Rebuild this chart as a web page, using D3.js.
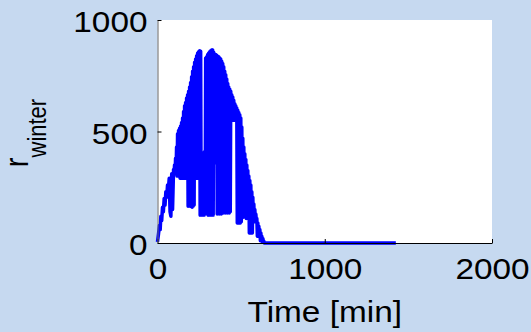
<!DOCTYPE html>
<html>
<head>
<meta charset="utf-8">
<script src="https://cdn.jsdelivr.net/npm/d3@7"></script>
<style>
  body { margin: 0; background: #c6d9f0; }
  svg { display: block; }
  .axis text { font-family: "Liberation Sans", Arial, sans-serif; font-size: 29px; fill: #000; }
</style>
</head>
<body>
<div id="chart"></div>
<script>
// time [min] and r_winter
const timeMin = [
  0, 6, 12, 16, 20, 25, 30, 35, 40, 45, 50, 55, 60, 65, 70, 75, 80, 85, 90,
  96, 99, 102, 105, 108, 111, 114, 117,
  120, 123, 126, 129, 132, 135, 138, 141,
  144, 147, 150, 153, 156, 159, 162, 165,
  168, 171, 174, 177, 180, 183, 186, 189,
  192, 195, 198, 201, 204, 207, 210, 213,
  216, 219, 222, 225, 228, 231, 234, 237,
  240, 243, 246, 249, 252, 255, 258, 261,
  264, 267, 270, 273, 276, 279, 282, 285,
  288, 291, 294, 297, 300, 303, 306, 309,
  312, 315, 318, 321, 324, 327, 330, 333,
  336, 339, 342, 345, 348, 351, 354, 357,
  360, 363, 366, 369, 372, 375, 378, 381,
  384, 387, 390, 393, 396, 399, 402, 405,
  408, 411, 414, 417, 420, 423, 426, 429,
  432, 435, 438, 441, 444, 447, 450, 453,
  456, 459, 462, 465, 468, 471, 474, 477,
  480, 483, 486, 489, 492, 495, 498, 501,
  504, 507, 510, 513, 516, 519, 522, 525,
  528, 531, 534, 537, 540, 543, 546, 549,
  552, 555, 558, 561, 564, 567, 570, 573,
  576, 579, 582, 585, 588, 591, 594, 597,
  600, 603, 606, 609, 612, 615, 618, 621,
  624, 627, 630, 633, 636, 639,
  642, 1425]
const rWinter = [
  5, 40, 80, 60, 120, 100, 160, 140, 200, 170, 230, 205, 260, 240, 290, 140, 120, 310, 150,
  330, 310, 350, 310, 380, 310, 430, 300,
  490, 300, 505, 300, 515, 290, 525, 290,
  540, 290, 560, 290, 590, 290, 615, 290,
  630, 290, 650, 290, 665, 165, 680, 170,
  700, 165, 720, 170, 745, 160, 770, 165,
  790, 170, 810, 290, 825, 290, 840, 290,
  852, 300, 858, 290, 862, 125, 860, 130,
  400, 125, 405, 130, 400, 125, 410, 130,
  830, 200, 835, 200, 845, 125, 852, 125,
  858, 130, 862, 125, 866, 130, 866, 125,
  855, 360, 848, 360, 845, 360, 842, 130,
  838, 135, 835, 130, 830, 135, 825, 130,
  815, 140, 805, 135, 790, 140, 770, 135,
  755, 140, 735, 135, 715, 140, 700, 135,
  690, 140, 680, 550, 665, 550, 655, 555,
  640, 550, 625, 555, 615, 550, 605, 90,
  595, 90, 585, 95, 575, 90, 560, 95,
  520, 115, 470, 115, 430, 120, 400, 115,
  375, 110, 350, 115, 325, 110, 300, 45,
  280, 45, 260, 50, 230, 45, 205, 100,
  175, 100, 150, 95, 130, 100, 110, 30,
  90, 30, 75, 30, 60, 10, 45, 10,
  30, 5, 20, 5, 8, 0,
  0, 0]
const xTicks = [0, 1000, 2000]
const yTicks = [0, 500, 1000]

const width = 531, height = 332
const margin = { top: 20, left: 157.5, right: 39, bottom: 89 }
const w = width - margin.left - margin.right
const h = height - margin.top - margin.bottom
const stretch = 1.15

const svg = d3.select('#chart').append('svg')
  .attr('width', width)
  .attr('height', height)

const g = svg.append('g')
  .attr('transform', `translate(${margin.left}, ${margin.top})`)

g.append('rect')
  .attr('width', w).attr('height', h)
  .attr('fill', '#fff')

const x = d3.scaleLinear().domain([0, 2000]).range([0, w])
const y = d3.scaleLinear().domain([0, 1000]).range([h, 0])

const points = timeMin.map((t, i) => [t, rWinter[i]])

g.append('path')
  .datum(points)
  .attr('fill', 'none')
  .attr('stroke', '#0000ff')
  .attr('stroke-width', 3.5)
  .attr('stroke-linejoin', 'round')
  .attr('d', d3.line().x(d => x(d[0])).y(d => y(d[1])))

const xAxis = g.append('g')
  .attr('class', 'axis')
  .attr('transform', `translate(0, ${h})`)
  .call(d3.axisBottom(x).tickValues(xTicks).tickFormat(d3.format('d'))
    .tickSizeInner(-4).tickSizeOuter(0).tickPadding(15))
xAxis.select('.domain').attr('stroke', '#000')
xAxis.selectAll('text')
  .attr('transform', `scale(${stretch},1)`)

const yAxis = g.append('g')
  .attr('class', 'axis')
  .call(d3.axisLeft(y).tickValues(yTicks).tickFormat(d3.format('d'))
    .tickSizeInner(-4).tickSizeOuter(0).tickPadding(10))
yAxis.select('.domain').attr('stroke', '#666')
yAxis.selectAll('text')
  .attr('x', -10 / stretch)
  .attr('dy', '0.4em')
  .attr('transform', `scale(${stretch},1)`)

// axis titles
svg.append('text')
  .attr('transform', `translate(${margin.left + w / 2}, 322) scale(${stretch},1)`)
  .attr('text-anchor', 'middle')
  .style('font-family', '"Liberation Sans", Arial, sans-serif')
  .style('font-size', '29px')
  .text('Time [min]')

const yLabel = svg.append('text')
  .attr('transform', `translate(28, 133) rotate(-90) scale(1,${stretch})`)
  .attr('text-anchor', 'middle')
  .style('font-family', '"Liberation Sans", Arial, sans-serif')
yLabel.append('tspan').style('font-size', '29px').text('r')
yLabel.append('tspan').style('font-size', '22px').attr('dy', 16).text('winter')
</script>
</body>
</html>
